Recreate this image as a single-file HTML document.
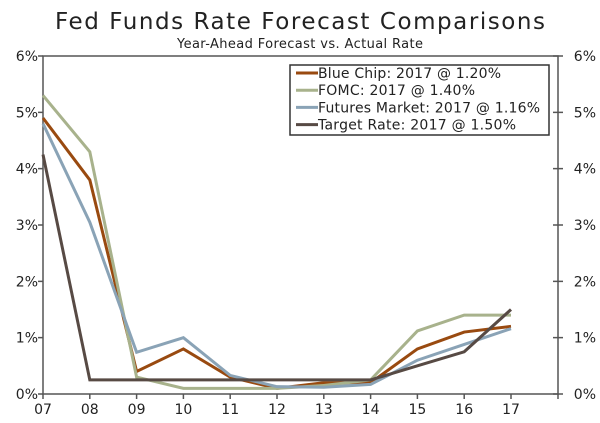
<!DOCTYPE html>
<html><head><meta charset="utf-8"><style>
body{margin:0;background:#fff;width:600px;height:423px;overflow:hidden}
svg{display:block;font-family:"DejaVu Sans","Liberation Sans",sans-serif}
</style></head><body>
<svg id="c" width="600" height="423">
<text x="300" y="29" text-anchor="middle" font-size="23" textLength="490" fill="#222">Fed Funds Rate Forecast Comparisons</text>
<text x="300" y="48" text-anchor="middle" font-size="13" textLength="246" fill="#222">Year-Ahead Forecast vs. Actual Rate</text>
<g id="axes"></g><g id="series"></g><g id="legend"></g>
</svg>
<script>
const categories=["07","08","09","10","11","12","13","14","15","16","17"];
const yTicks=[0,1,2,3,4,5,6];
const blueChip=[4.9,3.8,0.4,0.8,0.3,0.1,0.2,0.2,0.8,1.1,1.2];
const fomc=[5.3,4.3,0.3,0.1,0.1,0.1,0.15,0.25,1.12,1.4,1.4];
const futures=[4.8,3.05,0.74,1.0,0.33,0.13,0.12,0.17,0.6,0.88,1.16];
const target=[4.25,0.25,0.25,0.25,0.25,0.25,0.25,0.25,0.5,0.75,1.5];
const seriesNames=["Blue Chip: 2017 @ 1.20%","FOMC: 2017 @ 1.40%","Futures Market: 2017 @ 1.16%","Target Rate: 2017 @ 1.50%"];
const legendWidths=[183,157,222,198];
const NS="http://www.w3.org/2000/svg";
const L=43,R=558,T=56,B=394,step=46.8;
const x=i=>L+i*step, y=v=>B-(v/6)*(B-T);
function mk(tag,attrs,parent){const e=document.createElementNS(NS,tag);for(const k in attrs)e.setAttribute(k,attrs[k]);parent.appendChild(e);return e;}
const ax=document.getElementById('axes');
let e=mk('path',{d:`M${L},${T}H${R}V${B}H${L}Z`,fill:'none',stroke:'#555','stroke-width':1.5},ax);


yTicks.forEach(v=>{
 let t=mk('path',{d:`M${L-5},${y(v)}H${L}M${R-5},${y(v)}H${R+5}`,stroke:'#555','stroke-width':1.5},ax);
 
 
 let a=mk('text',{x:L-5,y:y(v)+5,'text-anchor':'end','font-size':14,fill:'#222'},ax);a.textContent=v+'%';
 
 
 let b=mk('text',{x:R+38,y:y(v)+5,'text-anchor':'end','font-size':14,fill:'#222'},ax);b.textContent=v+'%';
 
 
});
categories.forEach((c,i)=>{
 let t=mk('path',{d:`M${x(i)},${B}V${B+5}`,stroke:'#555','stroke-width':1.5},ax);
 
 
 let a=mk('text',{x:x(i),y:B+20,'text-anchor':'middle','font-size':14,fill:'#222'},ax);a.textContent=c;
 
 
});
let rt=mk('path',{d:`M${R},${B}V${B+5}`,stroke:'#555','stroke-width':1.5},ax);


const sg=document.getElementById('series');
const all=[[blueChip,'#994a10','blue-chip-line'],[fomc,'#a8b28c','fomc-line'],[futures,'#8aa3b6','futures-line'],[target,'#574a44','target-rate-line']];
all.forEach(([d,col,name])=>{
 let p=mk('polyline',{points:d.map((v,i)=>x(i)+','+y(v)).join(' '),fill:'none',stroke:col,'stroke-width':3,'stroke-linejoin':'miter'},sg);
 
 
});
const lg=document.getElementById('legend');
let box=mk('rect',{x:290,y:65,width:259,height:70,fill:'#fff',stroke:'#333','stroke-width':1.5},lg);


all.forEach(([d,col,name],i)=>{
 const yy=73+i*17.2;
 let s=mk('path',{d:`M296,${yy}H318`,stroke:col,'stroke-width':3},lg);
 
 
 let t=mk('text',{x:318,y:yy+5,'font-size':14,fill:'#222',textLength:legendWidths[i]},lg);t.textContent=seriesNames[i];
 
 
});
</script>
</body></html>
